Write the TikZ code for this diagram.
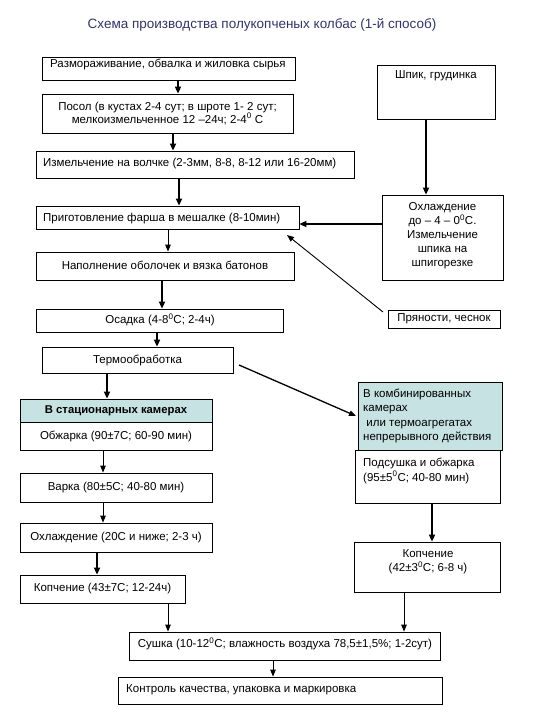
\documentclass[tikz,border=0pt]{standalone}
\usepackage{fontspec}
\setmainfont{Liberation Sans}
\usetikzlibrary{arrows.meta,fit}
\definecolor{teal1}{RGB}{198,226,226}
\definecolor{titlec}{RGB}{51,51,102}
\tikzset{
  box/.style={draw=black,line width=0.8pt,inner sep=0pt,fill=white},
  tealbox/.style={box,fill=teal1},
  txt/.style={inner sep=0pt,font=\fontsize{11.5}{13.5}\selectfont,align=center},
  ltxt/.style={txt,anchor=west,align=left},
  thickarr/.style={line width=1.8pt,-{Triangle[length=7pt,width=6pt]}},
  thinarr/.style={line width=0.9pt,-{Triangle[length=7pt,width=5.5pt]}},
}
\begin{document}
\begin{tikzpicture}[x=1pt,y=-1pt]
\useasboundingbox (0,0) rectangle (540,720);
% title
\node[txt,text=titlec,font=\fontsize{13.5}{15}\selectfont] (title) at (262,25) {Схема производства полукопченых колбас (1-й способ)};
% boxes
\node[box,fit={(42,57)(295,80)}] (b1) {};
\node[ltxt] (t1) at (50,64) {Размораживание, обвалка и жиловка сырья};
\node[box,fit={(377,65)(495,119)}] (shp) {};
\node[txt] (tshp) at (436,76) {Шпик, грудинка};
\node[box,fit={(42,94)(293,133)}] (b2) {};
\node[txt,font=\fontsize{11.5}{12.5}\selectfont] (t2) at (b2.center) {Посол (в кустах 2-4 сут; в шроте 1- 2 сут;\\мелкоизмельченное 12 –24ч; 2-4\textsuperscript{0} С};
\node[box,fit={(36,151)(354,178)}] (b3) {};
\node[ltxt] (t3) at (43,164) {Измельчение на волчке (2-3мм, 8-8, 8-12 или 16-20мм)};
\node[box,fit={(382,195)(503,280)}] (ohl) {};
\node[txt,font=\fontsize{11.5}{14}\selectfont] (tohl) at (442.5,236) {Охлаждение\\до – 4 – 0\textsuperscript{0}С.\\Измельчение\\шпика на\\шпигорезке};
\node[box,fit={(36,206)(299,229)}] (b4) {};
\node[ltxt] (t4) at (43,219) {Приготовление фарша в мешалке (8-10мин)};
\node[box,fit={(36,252)(294,280)}] (b5) {};
\node[txt] (t5) at (165,265) {Наполнение оболочек и вязка батонов};
\node[box,fit={(36,309)(283,332)}] (b6) {};
\node[txt] (t6) at (160,320) {Осадка (4-8\textsuperscript{0}С; 2-4ч)};
\node[box,fit={(388,310)(500,328)}] (spice) {};
\node[txt] (tspice) at (spice.center) {Пряности, чеснок};
\node[box,fit={(42,347)(233,373)}] (b7) {};
\node[txt] (t7) at (137.5,360) {Термообработка};
\node[tealbox,fit={(20,399)(212,422)}] (stat) {};
\node[txt,font=\fontsize{11.3}{13}\bfseries] (tstat) at (stat.center) {В стационарных камерах};
\node[box,fit={(20,422)(212,450)}] (b8) {};
\node[txt] (t8) at (b8.center) {Обжарка (90±7С; 60-90 мин)};
\node[box,fit={(20,473)(212,502)}] (b9) {};
\node[txt] (t9) at (b9.center) {Варка (80±5С; 40-80 мин)};
\node[box,fit={(20,523)(212,552)}] (b10) {};
\node[txt] (t10) at (b10.center) {Охлаждение (20С и ниже; 2-3 ч)};
\node[box,fit={(20,575)(185,603)}] (b11) {};
\node[txt] (t11) at (102.5,589) {Копчение (43±7С; 12-24ч)};
\node[tealbox,fit={(358,382)(502,450)}] (comb) {};
\node[txt,anchor=north west,align=left,font=\fontsize{11.5}{14.5}\selectfont] (tcomb) at (363,388.5) {В комбинированных\\камерах\\\ или термоагрегатах\\непрерывного действия};
\node[box,fit={(355,450)(500,503)}] (pods) {};
\node[txt,anchor=north west,align=left,font=\fontsize{11.5}{14.5}\selectfont] (tpods) at (363,458) {Подсушка и обжарка\\(95±5\textsuperscript{0}С; 40-80 мин)};
\node[box,fit={(354,542)(500,592)}] (kopr) {};
\node[txt,anchor=north,font=\fontsize{11.5}{14.5}\selectfont] (tkopr) at (428,549) {Копчение\\(42±3\textsuperscript{0}С; 6-8 ч)};
\node[box,fit={(129,632)(440,660)}] (b12) {};
\node[txt] (t12) at (285,644) {Сушка (10-12\textsuperscript{0}С; влажность воздуха 78,5±1,5\%; 1-2сут)};
\node[box,fit={(118,677)(442,704)}] (b13) {};
\node[ltxt] (t13) at (126,690) {Контроль качества, упаковка и маркировка};
% arrow x positions
\coordinate (x178) at (178,0);
\coordinate (x173) at (173,0);
\coordinate (x426) at (426,0);
\coordinate (x179) at (179,0);
\coordinate (y224) at (0,224);
\coordinate (x168) at (168,0);
\coordinate (x162) at (162,0);
\coordinate (x157) at (157,0);
\coordinate (x107) at (107,0);
\coordinate (x103) at (103,0);
\coordinate (x97) at (97,0);
\coordinate (x432) at (432,0);
\coordinate (x404) at (404,0);
\coordinate (x273) at (273,0);
\coordinate (sp1) at (383,312);
\coordinate (sp2) at (287,235);
\coordinate (tc1) at (239,365);
\coordinate (tc2) at (356,416);
% connectors
\draw[thickarr] (b1.south -| x178) -- (b2.north -| x178);
\draw[thickarr] (b2.south -| x173) -- (b3.north -| x173);
\draw[thickarr] (shp.south -| x426) -- (ohl.north -| x426);
\draw[thickarr] (b3.south -| x179) -- (b4.north -| x179);
\draw[thickarr] (ohl.west |- y224) -- (b4.east |- y224);
\draw[thinarr] (sp1) -- (sp2);
\draw[thinarr] (b4.south -| x168) -- (b5.north -| x168);
\draw[thickarr] (b5.south -| x162) -- (b6.north -| x162);
\draw[thickarr] (b6.south -| x157) -- (b7.north -| x157);
\draw[thinarr,line width=1.3pt] (tc1) -- (tc2);
\draw[thickarr] (b7.south -| x107) -- (stat.north -| x107);
\draw[thinarr] (b8.south -| x103) -- (b9.north -| x103);
\draw[thinarr] (b9.south -| x103) -- (b10.north -| x103);
\draw[thickarr] (b10.south -| x97) -- (b11.north -| x97);
\draw[thickarr] (pods.south -| x432) -- (kopr.north -| x432);
\draw[thinarr] (b11.south -| x168) -- (b12.north -| x168);
\draw[thinarr] (kopr.south -| x404) -- (b12.north -| x404);
\draw[thinarr] (b12.south -| x273) -- (b13.north -| x273);
\end{tikzpicture}
\end{document}
